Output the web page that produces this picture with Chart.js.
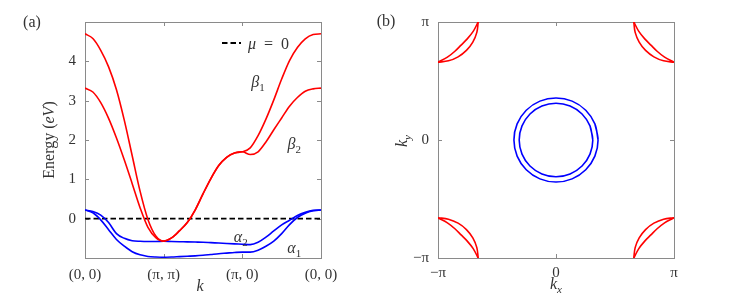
<!DOCTYPE html>
<html lang="en">
<head>
  <meta charset="UTF-8"/>
  <title>Bands and Fermi surface</title>
  <script src="https://cdn.jsdelivr.net/npm/chart.js"></script>
  <style>
    body { margin: 0; background: #fff; }
    #wrap { position: relative; width: 747px; height: 297px; }
    canvas { position: absolute; top: 0; }
    #bands { left: 0; }
    #fermi { left: 373px; }
  </style>
</head>
<body>
<div id="wrap">
  <canvas id="bands" width="373" height="297"></canvas>
  <canvas id="fermi" width="374" height="297"></canvas>
</div>
<script>
  // ---- panel (a): bands along (0,0) -> (pi,pi) -> (pi,0) -> (0,0), one unit per segment
  const kPath = [0, 0.1, 0.2, 0.3, 0.4, 0.5, 0.6, 0.7, 0.8, 0.9, 1.0,
                 1.1, 1.2, 1.3, 1.4, 1.5, 1.6, 1.7, 1.8, 1.9, 2.0,
                 2.1, 2.2, 2.3, 2.4, 2.5, 2.6, 2.7, 2.8, 2.9, 3.0];
  const beta1  = [4.70, 4.58, 4.28, 3.86, 3.28, 2.50, 1.60, 0.70, -0.02, -0.44, -0.57,
                  -0.49, -0.31, -0.10, 0.22, 0.63, 1.02, 1.35, 1.56, 1.67, 1.70,
                  1.80, 2.11, 2.53, 3.02, 3.55, 4.02, 4.35, 4.57, 4.68, 4.70];
  const beta2  = [3.32, 3.22, 2.95, 2.55, 2.05, 1.49, 0.89, 0.28, -0.22, -0.48, -0.57,
                  -0.49, -0.31, -0.10, 0.22, 0.63, 1.02, 1.35, 1.56, 1.67, 1.70,
                  1.63, 1.70, 1.95, 2.26, 2.56, 2.86, 3.08, 3.24, 3.30, 3.32];
  const alpha1 = [0.22, 0.15, -0.03, -0.28, -0.53, -0.70, -0.84, -0.92, -0.96, -0.975, -0.98,
                  -0.975, -0.965, -0.955, -0.945, -0.93, -0.91, -0.89, -0.875, -0.86, -0.85,
                  -0.85, -0.80, -0.70, -0.57, -0.38, -0.15, 0.03, 0.14, 0.20, 0.22];
  const alpha2 = [0.22, 0.18, 0.09, -0.10, -0.38, -0.50, -0.56, -0.575, -0.58, -0.58, -0.575,
                  -0.58, -0.585, -0.59, -0.595, -0.60, -0.61, -0.62, -0.63, -0.64, -0.65,
                  -0.66, -0.60, -0.47, -0.31, -0.16, -0.04, 0.08, 0.16, 0.21, 0.22];
  const muLevel = 0;
  const kLabels = ['(0, 0)', '(π, π)', '(π, 0)', '(0, 0)'];
  const eTicks = [0, 1, 2, 3, 4];

  // ---- panel (b): Fermi surface
  const alpha2FS = [[1.12, 0], [1.035, 0.429], [0.792, 0.792], [0.429, 1.035], [0, 1.12],
                    [-0.429, 1.035], [-0.792, 0.792], [-1.035, 0.429], [-1.12, 0],
                    [-1.035, -0.429], [-0.792, -0.792], [-0.429, -1.035], [0, -1.12],
                    [0.429, -1.035], [0.792, -0.792], [1.035, -0.429], [1.12, 0]];
  const alpha1FS = [[0.98, 0], [0.905, 0.375], [0.693, 0.693], [0.375, 0.905], [0, 0.98],
                    [-0.375, 0.905], [-0.693, 0.693], [-0.905, 0.375], [-0.98, 0],
                    [-0.905, -0.375], [-0.693, -0.693], [-0.375, -0.905], [0, -0.98],
                    [0.375, -0.905], [0.693, -0.693], [0.905, -0.375], [0.98, 0]];
  // pockets around the zone corners, as offsets (dx, dy) from the corner
  const beta2Arc = [[0, 1.07], [0.277, 1.034], [0.535, 0.927], [0.757, 0.757], [0.927, 0.535], [1.034, 0.277], [1.07, 0]];
  const beta1Arc = [[0, 1.07], [0.251, 0.937], [0.45, 0.779], [0.615, 0.615], [0.779, 0.45], [0.937, 0.251], [1.07, 0]];
  const fsTicks = [-Math.PI, 0, Math.PI];
  const fsTickLabels = ['−π', '0', 'π'];

  const RED = '#ff0000', BLUE = '#0000ff', TXT = '#333', FONT = '"Liberation Serif"';

  function series(ys, color) {
    return {
      data: kPath.map((k, i) => ({ x: k, y: ys[i] })),
      borderColor: color, borderWidth: 1.6, pointRadius: 0,
      showLine: true, cubicInterpolationMode: 'monotone'
    };
  }
  function loop(pts, color) {
    const d = pts.map(([x, y]) => ({ x, y }));
    d.push(d[1]);
    return { data: d, borderColor: color, borderWidth: 1.6, pointRadius: 0, showLine: true,
             tension: 0.35, capBezierPoints: false };
  }
  function cornerArc(arc, sx, sy, color) {
    return {
      data: arc.map(([dx, dy]) => ({ x: sx * (Math.PI - dx), y: sy * (Math.PI - dy) })),
      borderColor: color, borderWidth: 1.6, pointRadius: 0, showLine: true,
      tension: 0.35, capBezierPoints: false
    };
  }

  // rich text: segments may be italic and/or subscript
  function drawRich(ctx, item, x, y) {
    const size = item.size || 16;
    ctx.save();
    ctx.translate(x, y);
    if (item.rot) ctx.rotate(item.rot);
    ctx.fillStyle = item.color || TXT;
    ctx.textBaseline = 'alphabetic';
    const font = s => (s.it ? 'italic ' : '') + (s.sub ? Math.round(size * 0.7) : size) + 'px ' + FONT;
    let w = 0;
    item.segs.forEach(s => { ctx.font = font(s); w += ctx.measureText(s.t).width; });
    let cx = item.align === 'left' ? 0 : -w / 2;
    item.segs.forEach(s => {
      ctx.font = font(s);
      ctx.fillText(s.t, cx, size * 0.35 + (s.sub ? size * 0.25 : 0));
      cx += ctx.measureText(s.t).width;
    });
    ctx.restore();
  }

  // frame with inward ticks, plus labels
  const framePlugin = {
    id: 'frame',
    beforeDatasetsDraw(chart) {
      const { ctx, chartArea: a, scales } = chart;
      ctx.save();
      ctx.strokeStyle = '#8a8a8a';
      ctx.lineWidth = 1;
      ctx.strokeRect(Math.round(a.left) + 0.5, Math.round(a.top) + 0.5,
                     Math.round(a.right - a.left), Math.round(a.bottom - a.top));
      ctx.beginPath();
      scales.x.ticks.forEach(t => {
        const px = Math.round(scales.x.getPixelForValue(t.value)) + 0.5;
        ctx.moveTo(px, a.top); ctx.lineTo(px, a.top + 4);
        ctx.moveTo(px, a.bottom); ctx.lineTo(px, a.bottom - 4);
      });
      scales.y.ticks.forEach(t => {
        const py = Math.round(scales.y.getPixelForValue(t.value)) + 0.5;
        ctx.moveTo(a.left, py); ctx.lineTo(a.left + 4, py);
        ctx.moveTo(a.right, py); ctx.lineTo(a.right - 4, py);
      });
      ctx.stroke();
      ctx.restore();
    },
    afterDraw(chart, args, opts) {
      const { ctx, scales } = chart;
      (opts.texts || []).forEach(it => {
        const x = it.data ? scales.x.getPixelForValue(it.x) : it.x;
        const y = it.data ? scales.y.getPixelForValue(it.y) : it.y;
        drawRich(ctx, it, x, y);
      });
      if (opts.legend) {
        const L = opts.legend;
        ctx.save();
        ctx.strokeStyle = '#000';
        ctx.lineWidth = 1.8;
        ctx.setLineDash([5.5, 3]);
        ctx.beginPath();
        ctx.moveTo(L.x0, L.y); ctx.lineTo(L.x1, L.y);
        ctx.stroke();
        ctx.restore();
        drawRich(ctx, { segs: L.segs, align: 'left' }, L.x1 + 7, L.y);
      }
    }
  };

  const tickFont = { family: FONT, size: 15 };

  // ---- chart (a)
  new Chart(document.getElementById('bands'), {
    type: 'scatter',
    data: {
      datasets: [
        series(beta1, RED), series(beta2, RED),
        series(alpha1, BLUE), series(alpha2, BLUE),
        {
          data: [{ x: kPath[0], y: muLevel }, { x: kPath[kPath.length - 1], y: muLevel }],
          borderColor: '#000', borderWidth: 1.8, borderDash: [5.5, 3], pointRadius: 0, showLine: true
        }
      ]
    },
    options: {
      responsive: false, animation: false, events: [],
      layout: { padding: { top: 22, right: 52, left: 0, bottom: 0 } },
      scales: {
        x: {
          type: 'linear', min: 0, max: 3,
          grid: { display: false, drawTicks: false }, border: { display: false },
          ticks: { stepSize: 1, autoSkip: false, maxRotation: 0, padding: 8, color: TXT, font: tickFont,
                   callback: v => kLabels[v] ?? '' },
          afterFit: s => { s.height = 39; }
        },
        y: {
          type: 'linear', min: -1, max: 5,
          grid: { display: false, drawTicks: false }, border: { display: false },
          ticks: { stepSize: 1, padding: 9, color: TXT, font: tickFont,
                   callback: v => eTicks.includes(v) ? String(v) : '' },
          afterFit: s => { s.width = 85; }
        }
      },
      plugins: {
        legend: { display: false }, tooltip: { enabled: false },
        frame: {
          texts: [
            { data: true, x: 2.2, y: 3.5, segs: [{ t: 'β', it: 1 }, { t: '1', sub: 1 }] },
            { data: true, x: 2.66, y: 1.92, segs: [{ t: 'β', it: 1 }, { t: '2', sub: 1 }] },
            { data: true, x: 1.98, y: -0.44, segs: [{ t: 'α', it: 1 }, { t: '2', sub: 1 }] },
            { data: true, x: 2.66, y: -0.72, segs: [{ t: 'α', it: 1 }, { t: '1', sub: 1 }] },
            { x: 32, y: 21, segs: [{ t: '(a)' }] },
            { x: 48, y: 140, rot: -Math.PI / 2, segs: [{ t: 'Energy (' }, { t: 'eV', it: 1 }, { t: ')' }] },
            { x: 200, y: 285, segs: [{ t: 'k', it: 1 }] }
          ],
          legend: { x0: 222, x1: 241, y: 43, segs: [{ t: 'μ', it: 1 }, { t: '\u2002=\u20020' }] }
        }
      }
    },
    plugins: [framePlugin]
  });

  // ---- chart (b)
  const fsSets = [loop(alpha2FS, BLUE), loop(alpha1FS, BLUE)];
  [[-1, 1], [1, 1], [-1, -1], [1, -1]].forEach(([sx, sy]) => {
    fsSets.push(cornerArc(beta1Arc, sx, sy, RED), cornerArc(beta2Arc, sx, sy, RED));
  });

  new Chart(document.getElementById('fermi'), {
    type: 'scatter',
    data: { datasets: fsSets },
    options: {
      responsive: false, animation: false, events: [],
      layout: { padding: { top: 22, right: 73, left: 0, bottom: 0 } },
      scales: {
        x: {
          type: 'linear', min: -Math.PI, max: Math.PI,
          grid: { display: false, drawTicks: false }, border: { display: false },
          afterBuildTicks: ax => { ax.ticks = fsTicks.map(v => ({ value: v })); },
          ticks: { autoSkip: false, maxRotation: 0, padding: 6, color: TXT, font: tickFont,
                   callback: (v, i) => fsTickLabels[i] },
          afterFit: s => { s.height = 39; }
        },
        y: {
          type: 'linear', min: -Math.PI, max: Math.PI,
          grid: { display: false, drawTicks: false }, border: { display: false },
          afterBuildTicks: ax => { ax.ticks = fsTicks.map(v => ({ value: v })); },
          ticks: { padding: 9, color: TXT, font: tickFont,
                   callback: (v, i) => fsTickLabels[i] },
          afterFit: s => { s.width = 65; }
        }
      },
      plugins: {
        legend: { display: false }, tooltip: { enabled: false },
        frame: {
          texts: [
            { x: 13, y: 20, segs: [{ t: '(b)' }] },
            { x: 28, y: 141, rot: -Math.PI / 2, segs: [{ t: 'k', it: 1 }, { t: 'y', it: 1, sub: 1 }] },
            { x: 183, y: 283.5, segs: [{ t: 'k', it: 1 }, { t: 'x', it: 1, sub: 1 }] }
          ]
        }
      }
    },
    plugins: [framePlugin]
  });
</script>
</body>
</html>
